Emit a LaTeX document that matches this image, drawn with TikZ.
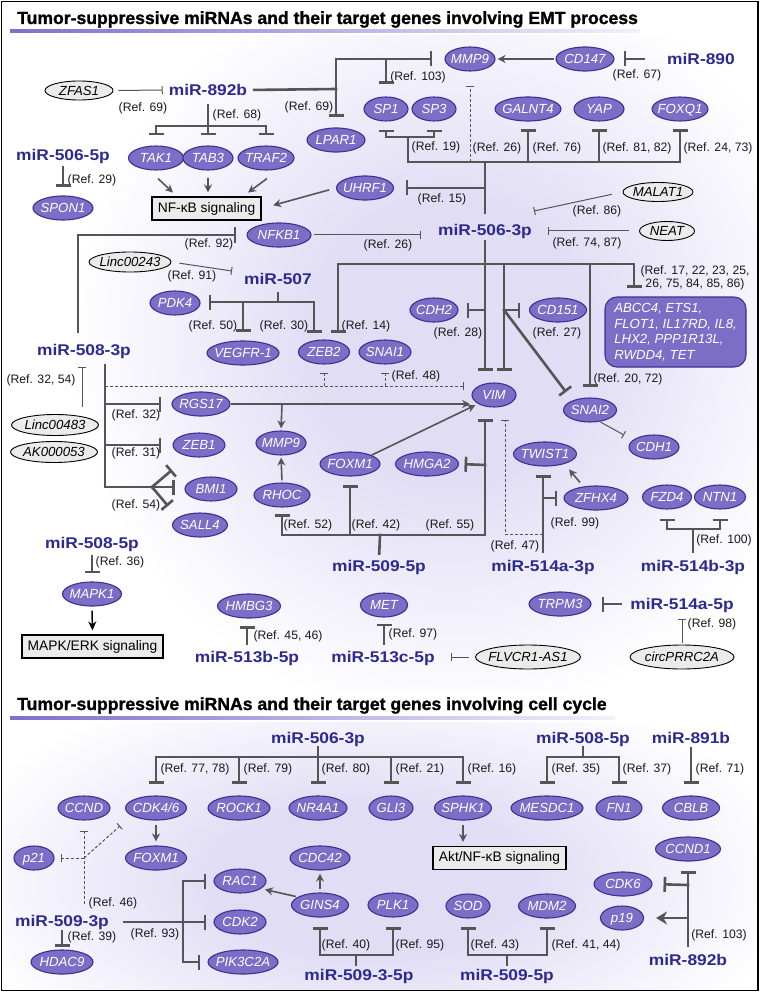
\documentclass[tikz,border=0pt]{standalone}
\usepackage{fontspec}
\setmainfont{Liberation Sans}
\newfontfamily\mirfamily[FakeStretch=1.12]{Liberation Sans}
\newfontfamily\titlefamily[BoldFeatures={FakeBold=1.3}]{Liberation Sans}
\usetikzlibrary{shapes.geometric,arrows.meta}
\definecolor{gfill}{HTML}{7C6DC7}
\definecolor{gdraw}{HTML}{393293}
\definecolor{mirc}{HTML}{2C2A8E}
\definecolor{lc}{HTML}{555555}
\definecolor{lncfill}{HTML}{EBEBEB}
\definecolor{bgp}{HTML}{E1DDF5}
\definecolor{ulc}{HTML}{7E70CB}
\pgfdeclareradialshading{bgsh}{\pgfpoint{0bp}{0bp}}{color(0bp)=(bgp);color(9bp)=(bgp);color(25bp)=(white);color(50bp)=(white)}
\newcommand\genefnt{\fontsize{13.2}{15.5}\selectfont\itshape}
\newcommand\reffnt{\fontsize{12.2}{13}\selectfont}
\newcommand\mirfnt{\mirfamily\bfseries\fontsize{15.5}{18}\selectfont}
\newcommand\boxfnt{\fontsize{13.8}{16}\selectfont}
\newcommand\titlefnt{\titlefamily\bfseries\fontsize{17.6}{20}\selectfont}
\newcommand\gtx[1]{\makebox[0pt]{\raisebox{-4.7pt}[0pt][0pt]{#1}}}
\newcommand\gn[4]{\node[gene, minimum width=#3pt] (#1) at (#2) {\gtx{#4}};}
\newcommand\lncn[5]{\node[lnc, minimum width=#3pt, minimum height=#4pt] (#1) at (#2) {\gtx{#5}};}
\tikzset{
  gene/.style={ellipse, draw=gdraw, fill=gfill, line width=1.1pt, text=white, font=\genefnt, inner sep=0pt, minimum height=24pt},
  lnc/.style={ellipse, draw=black, fill=lncfill, line width=0.9pt, text=black, font=\genefnt, inner sep=0pt},
  mir/.style={text=mirc, font=\mirfnt, inner sep=1pt, text height=11.5pt, text depth=0pt},
  ref/.style={font=\reffnt, inner sep=0pt, text=black!90},
  titlef/.style={font=\titlefnt, inner sep=0pt, anchor=base west, text=black},
  sigbox/.style={draw=black, fill=lncfill, line width=1.1pt, font=\boxfnt, minimum height=23pt, inner sep=0pt},
  ln/.style={draw=lc, line width=2.6pt, line cap=rect},
  inh/.style={ln, -{Bar[width=15pt]}},
  thininh/.style={draw=lc, line width=1pt, -{Bar[width=8pt]}},
  act/.style={draw=lc, line width=1.6pt, -{Stealth[length=8pt,width=8pt]}},
  actk/.style={draw=black, line width=1.5pt, -{Stealth[length=9pt,width=8pt]}},
  actb/.style={draw=lc, line width=2.6pt, -{Stealth[length=11pt,width=13pt]}},
  dsh/.style={draw=lc, line width=1pt, dash pattern=on 3pt off 2pt, -{Bar[width=8pt]}}
}
\begin{document}
\begin{tikzpicture}[x=1pt,y=-1pt]
\useasboundingbox (0,0) rectangle (760,992);
\fill[white] (0,0) rectangle (760,992);
\begin{scope}
\clip (3,36) rectangle (757,690);
\shade[shading=bgsh] (70,-40) rectangle (830,720);
\end{scope}
\begin{scope}
\clip (3,722) rectangle (757,989);
\shade[shading=bgsh] (-60,670) rectangle (800,1090);
\end{scope}
\draw[line width=1.6pt] (1.5,1.5) rectangle (758,990.5);

% ---------- titles
\node[titlef] (title1) at (17,24) {Tumor-suppressive miRNAs and their target genes involving EMT process};
\shade[left color=ulc, right color=ulc!10] (10,30) rectangle (640,33);
\node[titlef] (title2) at (17,710) {Tumor-suppressive miRNAs and their target genes involving cell cycle};
\shade[left color=ulc, right color=ulc!10] (10,716) rectangle (615,719);

% ---------- top panel nodes
\node[mir] (m892) at (208,90) {miR-892b};
\lncn{zfas}{79,90.5}{68}{19}{ZFAS1}
\node[ref] (r69a) at (143,108) {(Ref. 69)};
\node[ref] (r68) at (237,115) {(Ref. 68)};
\gn{tak1}{156,158}{55}{TAK1}
\gn{tab3}{208,158}{50}{TAB3}
\gn{traf2}{266,158}{56}{TRAF2}
\node[sigbox, minimum width=109pt] (nfkb) at (206.5,208.5) {NF-κB signaling};
\node[mir] (m5065p) at (63,155) {miR-506-5p};
\node[ref] (r29) at (92,180) {(Ref. 29)};
\gn{spon1}{63,208}{60}{SPON1}
\gn{mmp9a}{470,59}{50}{MMP9}
\gn{cd147}{585,59}{58}{CD147}
\node[mir] (m890) at (701,59) {miR-890};
\node[ref] (r67) at (637,75) {(Ref. 67)};
\node[ref] (r103) at (418,77) {(Ref. 103)};
\node[ref] (r69b) at (309,107) {(Ref. 69)};
\gn{lpar1}{336,140}{58}{LPAR1}
\gn{sp1}{386,109}{44}{SP1}
\gn{sp3}{434,109}{44}{SP3}
\node[ref] (r19) at (436,147) {(Ref. 19)};
\gn{galnt4}{528,109}{66}{GALNT4}
\gn{yap}{599,109}{50}{YAP}
\gn{foxq1}{680,109}{56}{FOXQ1}
\node[ref] (r26a) at (497,148) {(Ref. 26)};
\node[ref] (r76) at (557,148) {(Ref. 76)};
\node[ref] (r8182) at (637,148) {(Ref. 81, 82)};
\node[ref] (r2473) at (718,148) {(Ref. 24, 73)};
\gn{uhrf1}{365,188}{57}{UHRF1}
\node[ref] (r15) at (442,199) {(Ref. 15)};
\node[mir] (m5063p) at (485,230) {miR-506-3p};
\lncn{malat1}{658,192}{70}{19}{MALAT1}
\node[ref] (r86) at (597,211) {(Ref. 86)};
\lncn{neat}{667,231}{55}{19}{NEAT}
\node[ref] (r7487) at (587,243) {(Ref. 74, 87)};
\gn{nfkb1}{279,235}{64}{NFKB1}
\node[ref] (r26b) at (388,245) {(Ref. 26)};
\node[ref] (r92) at (209,244) {(Ref. 92)};
\lncn{linc243}{130,262}{82}{20}{Linc00243}
\node[ref] (r91) at (192,276) {(Ref. 91)};
\node[mir] (m507) at (278,279) {miR-507};
\gn{pdk4}{175,303}{50}{PDK4}
\node[ref] (r50) at (213,326) {(Ref. 50)};
\gn{vegfr}{243,353}{72}{VEGFR-1}
\node[ref] (r30) at (284,326) {(Ref. 30)};
\gn{zeb2}{324,352}{51}{ZEB2}
\node[ref] (r14) at (366,326) {(Ref. 14)};
\gn{snai1}{385,352}{52}{SNAI1}
\gn{cdh2}{434,310}{48}{CDH2}
\node[ref] (r28) at (458,333) {(Ref. 28)};
\gn{cd151}{558,310}{57}{CD151}
\node[ref] (r27) at (557,333) {(Ref. 27)};
\node[rounded corners=12pt, draw=gdraw, fill=gfill, line width=1.1pt, text=white, font=\genefnt, minimum width=141pt, minimum height=70pt, align=left, inner sep=0pt] (abcc) at (675.5,332) {ABCC4, ETS1,\\FLOT1, IL17RD, IL8,\\LHX2, PPP1R13L,\\RWDD4, TET};
\node[ref, align=center] (r17) at (695,278) {(Ref. 17, 22, 23, 25,\\26, 75, 84, 85, 86)};
\gn{snai2}{590,410}{53}{SNAI2}
\node[ref] (r2072) at (628,379) {(Ref. 20, 72)};
\gn{cdh1}{654,447}{50}{CDH1}
\gn{vim}{494,395}{44}{VIM}
\node[ref] (r48) at (416,376) {(Ref. 48)};
\node[mir] (m5083p) at (84,350) {miR-508-3p};
\node[ref] (r3254) at (41,380) {(Ref. 32, 54)};
\lncn{linc483}{55,425}{87}{21}{Linc00483}
\lncn{ak}{54,452}{87}{21}{AK000053}
\gn{rgs17}{201,404}{58}{RGS17}
\node[ref] (r32) at (136,415) {(Ref. 32)};
\gn{zeb1}{199,445}{52}{ZEB1}
\node[ref] (r31) at (136,453) {(Ref. 31)};
\gn{bmi1}{211,489}{52}{BMI1}
\gn{sall4}{200,525}{55}{SALL4}
\node[ref] (r54) at (136,505) {(Ref. 54)};
\gn{mmp9b}{281,443}{50}{MMP9}
\gn{foxm1}{350,464}{60}{FOXM1}
\gn{hmga2}{427,464}{63}{HMGA2}
\gn{twist1}{545,454}{63}{TWIST1}
\gn{rhoc}{282,495}{56}{RHOC}
\node[ref] (r52) at (308,525) {(Ref. 52)};
\node[ref] (r42) at (376,525) {(Ref. 42)};
\node[ref] (r55) at (450,525) {(Ref. 55)};
\node[mir] (m5095p) at (379,566) {miR-509-5p};
\gn{zfhx4}{596,498}{64}{ZFHX4}
\node[ref] (r99) at (575,523) {(Ref. 99)};
\node[ref] (r47) at (515,546) {(Ref. 47)};
\node[mir] (m514a3p) at (543,566) {miR-514a-3p};
\gn{fzd4}{667,497}{49}{FZD4}
\gn{ntn1}{720,497}{51}{NTN1}
\node[ref] (r100) at (724,540) {(Ref. 100)};
\node[mir] (m514b3p) at (693,566) {miR-514b-3p};
\node[mir] (m5085p) at (92,543) {miR-508-5p};
\node[ref] (r36) at (120,562) {(Ref. 36)};
\gn{mapk1}{92,594}{59}{MAPK1}
\node[sigbox, minimum width=141pt] (mapkbox) at (92.5,646.5) {MAPK/ERK signaling};
\gn{hmbg3}{249,606}{63}{HMBG3}
\node[ref] (r4546) at (288,636) {(Ref. 45, 46)};
\node[mir] (m513b) at (247,657) {miR-513b-5p};
\gn{met}{384,605}{47}{MET}
\node[ref] (r97) at (413,634) {(Ref. 97)};
\node[mir] (m513c) at (383,657) {miR-513c-5p};
\lncn{flvcr}{528,657}{105}{24}{FLVCR1-AS1}
\gn{trpm3}{560,604}{62}{TRPM3}
\node[mir] (m514a5p) at (682,604) {miR-514a-5p};
\node[ref] (r98) at (712,624) {(Ref. 98)};
\lncn{circ}{682,657}{104}{24}{circPRRC2A}

% ---------- top panel coordinates
\coordinate (j892) at (208,126);
\coordinate (j336) at (336,89);
\coordinate (jsp1) at (386,59);
\coordinate (jsp) at (408,137);
\coordinate (h1) at (408,162);
\coordinate (g1) at (528,162);
\coordinate (g2) at (599,162);
\coordinate (g3) at (680,162);
\coordinate (c485) at (485,162);
\coordinate (d470) at (470,162);
\coordinate (c188) at (485,188);
\coordinate (e86) at (534,211);
\coordinate (e91) at (232,271);
\coordinate (j78) at (78,332);
\coordinate (j507) at (278,302);
\coordinate (jv) at (243,302);
\coordinate (b30) at (314,333);
\coordinate (c485h) at (485,264);
\coordinate (b14) at (338,333);
\coordinate (b17) at (634,288);
\coordinate (c591) at (590,264);
\coordinate (c504) at (504,264);
\coordinate (c504b) at (504,310);
\coordinate (c485b) at (485,310);
\coordinate (b27) at (566,392);
\coordinate (ecdh1) at (624,435);
\coordinate (d105) at (105,386);
\coordinate (b48) at (464,386);
\coordinate (dz) at (324,386);
\coordinate (ds) at (385,386);
\coordinate (c404) at (105,404);
\coordinate (c445) at (105,445);
\coordinate (v105b) at (105,487);
\coordinate (fk) at (152,487);
\coordinate (b54a) at (172,470);
\coordinate (b54b) at (175,487);
\coordinate (b54c) at (168,506);
\coordinate (e3254) at (82,367);
\coordinate (a1) at (470,404);
\coordinate (m282) at (282,404);
\coordinate (r485) at (485,535);
\coordinate (c465) at (485,465);
\coordinate (rr) at (282,535);
\coordinate (rf) at (350,535);
\coordinate (rs) at (380,535);
\coordinate (c543d) at (543,534);
\coordinate (c505) at (505,534);
\coordinate (c498) at (543,498);
\coordinate (jb) at (693,529);

% ---------- top panel connectors
\draw[thininh, shorten <=5pt, shorten >=5pt] (zfas.east) -- (m892.west);
\draw[ln, shorten <=8pt] (m892.south) -- (j892);
\draw[inh, shorten >=10pt] (j892) -| (tak1.north);
\draw[inh, shorten >=10pt] (j892) -- (tab3.north);
\draw[inh, shorten >=10pt] (j892) -| (traf2.north);
\draw[act] (tak1.south) ++(2,8) -- ++(15,14);
\draw[act, shorten <=7pt, shorten >=4pt] (tab3.south) -- (tab3.south |- nfkb.north);
\draw[act] (traf2.south) ++(1,8) -- ++(-19,14);
\draw[inh, shorten <=5pt, shorten >=8.5pt] (m5065p.south) -- (spon1.north);
\draw[ln, shorten <=6pt] (m892.east) -- (j336);
\draw[inh, shorten >=12pt] (j336) |- (mmp9a.west);
\draw[inh, shorten >=10.5pt] (j336) -- (lpar1.north);
\draw[inh, shorten >=12.5pt] (jsp1) -- (sp1.north);
\draw[act, shorten <=1pt, shorten >=2pt] (cd147.west) -- (mmp9a.east);
\draw[inh, shorten <=22pt, shorten >=9pt] (m890.west) -- (cd147.east);
\draw[inh, shorten >=8pt] (jsp) -| (sp1.south);
\draw[inh, shorten >=8pt] (jsp) -| (sp3.south);
\draw[ln] (jsp) -- (h1) -- (g3);
\draw[inh, shorten >=7.5pt] (g1) -- (galnt4.south);
\draw[inh, shorten >=7.5pt] (g2) -- (yap.south);
\draw[inh, shorten >=7.5pt] (g3) -- (foxq1.south);
\draw[dsh, shorten >=14pt] (d470) -- (mmp9a.south);
\draw[ln, shorten <=10pt] (m5063p.north) -- (c485);
\draw[inh, shorten >=11.5pt] (c188) -- (uhrf1.east);
\draw[act, shorten <=7pt, shorten >=12pt] (uhrf1.west) -- (nfkb.east);
\draw[thininh, shorten <=2pt, shorten >=16pt] (nfkb1.east) -- (nfkb1.east -| m5063p.west);
\draw[inh, shorten <=11pt, shorten >=10pt] (m5083p.north -| j78) |- (nfkb1.west);
\draw[thininh, shorten <=11pt] (malat1.west) -- (e86);
\draw[thininh, shorten <=10pt, shorten >=15pt] (neat.west) -- (neat.west -| m5063p.east);
\draw[thininh, shorten <=8pt] (linc243.east) -- (e91);
\draw[ln, shorten <=7pt] (m507.south) -- (j507);
\draw[inh, shorten >=8pt] (j507) -- (j507 -| pdk4.east);
\draw[inh, shorten >=8.5pt] (jv) -- (vegfr.north);
\draw[inh] (j507) -| (b30);
\draw[inh, shorten <=4pt, shorten >=11.5pt] (m5063p.south) -- (m5063p.south |- vim.north);
\draw[inh] (c485h) -| (b14);
\draw[inh] (c485h) -| (b17);
\draw[inh, shorten >=10.5pt] (c591) -- (snai2.north);
\draw[inh, shorten >=11.5pt] (c504) -- (c504 |- vim.north);
\draw[inh, shorten >=8pt] (c485b) -- (cdh2.east);
\draw[inh, shorten >=8.5pt] (c504b) -- (cd151.west);
\draw[inh] (c504b) -- (b27);
\draw[thininh, shorten <=1pt] (snai2.-50) -- (ecdh1);
\draw[dsh] (d105) -- (b48);
\draw[dsh, shorten >=8pt] (dz) -- (zeb2.south);
\draw[dsh, shorten >=8pt] (ds) -- (snai1.south);
\draw[ln, shorten <=8pt] (m5083p.south -| v105b) -- (v105b);
\draw[inh, shorten >=10pt] (c404) -- (rgs17.west);
\draw[inh, shorten >=11pt] (c445) -- (zeb1.west);
\draw[ln] (v105b) -- (fk);
\draw[inh] (fk) -- (b54a);
\draw[inh] (fk) -- (b54b);
\draw[inh] (fk) -- (b54c);
\draw[thininh] (linc483.north -| e3254) ++(0,-7) -- (e3254);
\draw[act] (rgs17.east) -- (a1);
\draw[act, shorten >=2pt] (m282) -- (mmp9b.north);
\draw[act, shorten <=2pt, shorten >=2pt] (rhoc.north) -- (mmp9b.south);
\draw[act, shorten >=3pt] (foxm1.north east) -- (vim.south west);
\draw[inh, shorten >=11.5pt] (r485) -- (r485 |- vim.south);
\draw[inh, shorten >=5.5pt] (c465) -- (hmga2.east);
\draw[ln] (r485) -- (rr);
\draw[inh, shorten >=6.5pt] (rr) -- (rhoc.south);
\draw[inh, shorten >=8.5pt] (rf) -- (foxm1.south);
\draw[ln, shorten <=5.5pt] (m5095p.north) -- (rs);
\draw[dsh, shorten >=12.5pt] (c543d) -- (c505) -- (vim.south -| c505);
\draw[inh, shorten <=7pt, shorten >=8.5pt] (m514a3p.north) -- (m514a3p.north |- twist1.south);
\draw[inh, shorten >=6pt] (c498) -- (zfhx4.west);
\draw[act] (zfhx4.north) ++(-16,-3) -- ++(-11,-13);
\draw[ln, shorten <=7pt] (m514b3p.north) -- (jb);
\draw[inh, shorten >=9pt] (jb) -| (fzd4.south);
\draw[inh, shorten >=9pt] (jb) -| (ntn1.south);
\draw[inh, shorten <=8pt, shorten >=10pt] (m514a5p.west) -- (trpm3.east);
\draw[thininh, shorten <=2pt, shorten >=8pt] (circ.north) -- (m514a5p.south);
\draw[thininh, shorten <=6pt, shorten >=15pt] (flvcr.west) -- (m513c.east);
\draw[inh, shorten <=6.5pt, shorten >=6pt] (m513c.north -| met.south) -- (met.south);
\draw[inh, shorten <=6.5pt, shorten >=7.5pt] (m513b.north) -- (m513b.north |- hmbg3.south);
\draw[inh, shorten <=6.5pt, shorten >=8pt] (m5085p.south) -- (mapk1.north);
\draw[actk, shorten <=4pt, shorten >=4pt] (mapk1.south) -- (mapkbox.north);

% ---------- bottom panel nodes
\node[mir] (m5063b) at (318,738) {miR-506-3p};
\node[ref] (r7778) at (195,769) {(Ref. 77, 78)};
\node[ref] (r79) at (268,769) {(Ref. 79)};
\node[ref] (r80) at (346,769) {(Ref. 80)};
\node[ref] (r21) at (420,769) {(Ref. 21)};
\node[ref] (r16) at (492,769) {(Ref. 16)};
\gn{ccnd}{84,808}{52}{CCND}
\gn{cdk46}{156,808}{61}{CDK4/6}
\gn{rock1}{239,808}{62}{ROCK1}
\gn{nr4a1}{318,808}{58}{NR4A1}
\gn{gli3}{391,808}{44}{GLI3}
\gn{sphk1}{463,808}{57}{SPHK1}
\node[sigbox, minimum width=133pt] (aktbox) at (499.5,858) {Akt/NF-κB signaling};
\node[mir] (m5085b) at (583,738) {miR-508-5p};
\node[ref] (r35) at (576,769) {(Ref. 35)};
\node[ref] (r37) at (647,769) {(Ref. 37)};
\gn{mesdc1}{547,808}{72}{MESDC1}
\gn{fn1}{619,808}{46}{FN1}
\node[mir] (m891b) at (691,738) {miR-891b};
\node[ref] (r71) at (720,769) {(Ref. 71)};
\gn{cblb}{691,808}{57}{CBLB}
\gn{ccnd1}{688,849}{65}{CCND1}
\gn{cdk6}{623,884}{58}{CDK6}
\gn{p19}{622,918}{43}{p19}
\node[mir] (m892bb) at (688,960) {miR-892b};
\node[ref] (r103b) at (719,935) {(Ref. 103)};
\gn{mdm2}{547,906}{57}{MDM2}
\gn{sod}{468,906}{44}{SOD}
\node[ref] (r43) at (495,945) {(Ref. 43)};
\node[ref] (r4144) at (586,945) {(Ref. 41, 44)};
\node[mir] (m5095b) at (507,975) {miR-509-5p};
\gn{cdc42}{320,858}{60}{CDC42}
\gn{gins4}{320,905}{57}{GINS4}
\gn{plk1}{393,905}{50}{PLK1}
\node[ref] (r40) at (346,945) {(Ref. 40)};
\node[ref] (r95) at (420,945) {(Ref. 95)};
\node[mir] (m50935) at (359,975) {miR-509-3-5p};
\gn{rac1}{240,881}{52}{RAC1}
\gn{cdk2}{240,922}{52}{CDK2}
\gn{pik}{243,962}{70}{PIK3C2A}
\node[mir] (m5093) at (62,921) {miR-509-3p};
\node[ref] (r93) at (155,934) {(Ref. 93)};
\node[ref] (r39) at (92,937) {(Ref. 39)};
\gn{hdac9}{62,962}{62}{HDAC9}
\gn{p21}{34,858}{40}{p21}
\gn{foxm1b}{156,858}{61}{FOXM1}
\node[ref] (r46) at (113,903) {(Ref. 46)};

% ---------- bottom panel coordinates
\coordinate (k) at (318,757);
\coordinate (k1) at (583,757);
\coordinate (n885) at (688,885);
\coordinate (n918) at (688,918);
\coordinate (s955) at (507,955);
\coordinate (t955) at (356,955);
\coordinate (q880) at (183,881);
\coordinate (q922) at (183,922);
\coordinate (q962) at (183,962);
\coordinate (d46j) at (84,858);
\coordinate (b46) at (120,826);

% ---------- bottom panel connectors
\draw[ln, shorten <=2pt] (m5063b.south) -- (k);
\draw[inh, shorten >=11.5pt] (k) -| (cdk46.north);
\draw[inh, shorten >=11.5pt] (k) -| (rock1.north);
\draw[inh, shorten >=11.5pt] (k) -- (nr4a1.north);
\draw[inh, shorten >=11.5pt] (k) -| (gli3.north);
\draw[inh, shorten >=11.5pt] (k) -| (sphk1.north);
\draw[act, shorten <=4pt, shorten >=4pt] (cdk46.south) -- (foxm1b.north);
\draw[act, shorten <=4pt, shorten >=4pt] (sphk1.south) -- (sphk1.south |- aktbox.north);
\draw[ln, shorten <=2pt] (m5085b.south) -- (k1);
\draw[inh, shorten >=11.5pt] (k1) -| (mesdc1.north);
\draw[inh, shorten >=11.5pt] (k1) -| (fn1.north);
\draw[inh, shorten <=3pt, shorten >=11.5pt] (m891b.south) -- (cblb.north);
\draw[inh, shorten <=7.5pt, shorten >=9.5pt] (m892bb.north) -- (ccnd1.south);
\draw[inh, shorten >=11pt] (n885) -- (cdk6.east);
\draw[actb, shorten >=12pt] (n918) -- (p19.east);
\draw[ln, shorten <=3pt] (m5095b.north) -- (s955);
\draw[inh, shorten >=8.5pt] (s955) -| (sod.south);
\draw[inh, shorten >=8.5pt] (s955) -| (mdm2.south);
\draw[ln, shorten <=3pt] (m50935.north -| t955) -- (t955);
\draw[inh, shorten >=9.5pt] (t955) -| (gins4.south);
\draw[inh, shorten >=9.5pt] (t955) -| (plk1.south);
\draw[act, shorten <=3pt, shorten >=3pt] (gins4.north) -- (cdc42.south);
\draw[act, shorten <=2pt, shorten >=4pt] (gins4.160) -- (rac1.-20);
\draw[ln, shorten <=14pt] (m5093.east |- q922) -- (q922);
\draw[ln] (q880) -- (q962);
\draw[inh, shorten >=7pt] (q880) -- (rac1.west);
\draw[inh, shorten >=7pt] (q922) -- (cdk2.west);
\draw[inh, shorten >=7pt] (q962) -- (pik.west);
\draw[inh, shorten <=3pt, shorten >=2.5pt] (m5093.south) -- (hdac9.north);
\draw[dsh, shorten <=10pt, shorten >=10pt] (m5093.north -| d46j) -- (d46j |- ccnd.south);
\draw[dsh, shorten >=6pt] (d46j) -- (p21.east);
\draw[dsh] (d46j) -- (b46);
\end{tikzpicture}
\end{document}
